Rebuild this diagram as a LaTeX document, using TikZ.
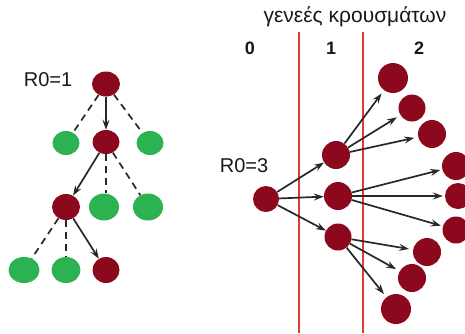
\documentclass[tikz,border=0pt]{standalone}
\usepackage{fontspec}
\setmainfont{Liberation Sans}
\usetikzlibrary{shapes.geometric,arrows.meta}
\definecolor{dred}{RGB}{140,8,28}
\definecolor{dgreen}{RGB}{44,178,80}
\definecolor{vline}{RGB}{222,58,58}
\definecolor{edgec}{RGB}{40,40,40}
\definecolor{txt}{RGB}{25,25,25}
\begin{document}
\begin{tikzpicture}[x=1pt,y=-1pt,
 inf/.style={ellipse,fill=dred,inner sep=0pt,minimum width=28pt,minimum height=25pt},
 hea/.style={ellipse,fill=dgreen,inner sep=0pt,minimum width=29pt,minimum height=26pt},
 rn/.style={circle,fill=dred,inner sep=0pt,minimum size=28pt},
 arr/.style={draw=edgec,line width=1.7pt,-{Stealth[length=10pt,width=7pt,inset=3.5pt]}},
 arrg/.style={arr,shorten >=4pt},
 dsh/.style={draw=edgec,line width=1.7pt,dash pattern=on 7pt off 5pt},
 lbl/.style={font=\fontsize{20}{24}\selectfont,text=txt},
 gen/.style={font=\fontsize{18}{22}\selectfont\bfseries,text=txt},
 ttl/.style={font=\fontsize{21}{25}\selectfont,text=txt},
 sep/.style={draw=vline,line width=1.5pt}
]
\useasboundingbox (0,0) rectangle (465,333);
% ---------- left tree ----------
\node[lbl] (l1) at (48,80) {R0=1};
\node[inf] (r0) at (106,84) {};
\node[hea,minimum width=27pt,minimum height=24pt] (a1) at (66,143) {};
\node[inf,minimum width=27pt,minimum height=24pt] (a2) at (106,142) {};
\node[hea,minimum width=27pt,minimum height=24pt] (a3) at (150,143) {};
\node[inf,minimum height=26pt] (b1) at (66,207) {};
\node[hea,minimum width=30pt,minimum height=27pt] (b2) at (104,207) {};
\node[hea,minimum width=30pt,minimum height=27pt] (b3) at (148,207) {};
\node[hea,minimum width=31pt] (c1) at (24,270) {};
\node[hea] (c2) at (66,270) {};
\node[inf,minimum width=27pt,minimum height=26pt] (c3) at (106,270) {};
\draw[dsh] (r0) -- (a1);
\draw[dsh] (r0) -- (a3);
\draw[arr] (r0) -- (a2);
\draw[arr] (a2) -- (b1);
\draw[dsh] (a2.south) -- (a2.south |- b2.north);
\draw[dsh] (a2) -- (b3);
\draw[dsh] (b1) -- (c1);
\draw[dsh] (b1) -- (c2);
\draw[arr] (b1) -- (c3);
% ---------- right part ----------
\node[ttl] (t) at (355,17) {γενεές κρουσμάτων};
\node[gen] (g0) at (250,48) {0};
\node[gen] (g1) at (331,48) {1};
\node[gen] (g2) at (419,48) {2};
\coordinate (v1t) at (299,32); \coordinate (v1b) at (299,333);
\coordinate (v2t) at (363,32); \coordinate (v2b) at (363,333);
\draw[sep] (v1t) -- (v1b);
\draw[sep] (v2t) -- (v2b);
\node[lbl] (l3) at (244,166) {R0=3};
\node[rn,minimum size=26pt] (s) at (266,199) {};
\node[rn] (m1) at (336,155) {};
\node[rn] (m2) at (338,196) {};
\node[rn,minimum size=27pt] (m3) at (338,237) {};
\node[rn,minimum size=30pt] (n1) at (393,78) {};
\node[rn,minimum size=27pt] (n2) at (412,108) {};
\node[rn] (n3) at (432,134) {};
\node[rn] (n4) at (456,166) {};
\node[rn,minimum size=26pt] (n5) at (458,196) {};
\node[rn,minimum size=27pt] (n6) at (456,230) {};
\node[rn] (n7) at (427,252) {};
\node[rn] (n8) at (412,278) {};
\node[rn,minimum size=30pt] (n9) at (396,309) {};
\draw[arr] (s) -- (m1);
\draw[arr] (s) -- (m2);
\draw[arr] (s) -- (m3);
\draw[arrg] (m1) -- (n1);
\draw[arrg] (m1) -- (n2);
\draw[arrg] (m1) -- (n3);
\draw[arr,shorten >=2pt] (m2) -- (n4);
\draw[arr,shorten >=2pt] (m2) -- (n5);
\draw[arr,shorten >=2pt] (m2) -- (n6);
\draw[arrg] (m3) -- (n7);
\draw[arrg] (m3) -- (n8);
\draw[arrg] (m3) -- (n9);
\end{tikzpicture}
\end{document}
